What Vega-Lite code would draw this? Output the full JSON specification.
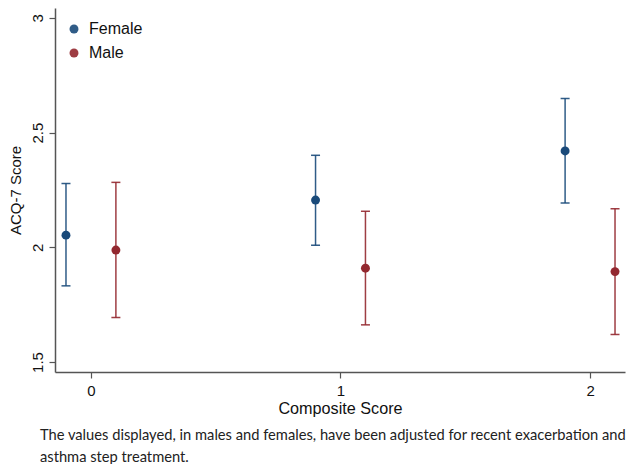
{
  "$schema": "https://vega.github.io/schema/vega-lite/v6.json",
  "width": 570,
  "height": 364,
  "autosize": "none",
  "padding": {"left": 55, "top": 8, "right": 3, "bottom": 92},
  "background": "white",
  "config": {"view": {"stroke": null}, "font": "Liberation Sans"},
  "title": {
    "text": ["The values displayed, in males and females, have been adjusted for recent exacerbation and", "asthma step treatment."],
    "orient": "bottom",
    "anchor": "start",
    "frame": "group",
    "dx": -15,
    "offset": 12,
    "font": "Lato",
    "fontSize": 14.7,
    "fontWeight": "normal",
    "color": "#222222",
    "lineHeight": 22
  },
  "data": {
    "values": [
      {"composite": 0, "sex": "Female", "mean": 2.053, "lo": 1.832, "hi": 2.278},
      {"composite": 0, "sex": "Male", "mean": 1.988, "lo": 1.694, "hi": 2.283},
      {"composite": 1, "sex": "Female", "mean": 2.206, "lo": 2.009, "hi": 2.401},
      {"composite": 1, "sex": "Male", "mean": 1.909, "lo": 1.662, "hi": 2.157},
      {"composite": 2, "sex": "Female", "mean": 2.42, "lo": 2.193, "hi": 2.649},
      {"composite": 2, "sex": "Male", "mean": 1.894, "lo": 1.62, "hi": 2.168}
    ]
  },
  "transform": [
    {"calculate": "datum.composite + (datum.sex === 'Female' ? -0.1 : 0.1)", "as": "xpos"}
  ],
  "encoding": {
    "x": {
      "field": "xpos",
      "type": "quantitative",
      "scale": {"domain": [-0.144, 2.14], "nice": false, "zero": false},
      "axis": {
        "values": [0, 1, 2],
        "format": "~g",
        "title": "Composite Score",
        "titleFont": "Liberation Sans",
        "titleFontSize": 16.2,
        "titleFontWeight": "normal",
        "titleColor": "#111111",
        "titlePadding": 2,
        "labelFont": "Liberation Sans",
        "labelFontSize": 15,
        "labelColor": "#111111",
        "labelPadding": 5,
        "grid": false,
        "domainColor": "#555555",
        "domainWidth": 1.5,
        "tickColor": "#555555",
        "tickSize": 6,
        "tickWidth": 1.2
      }
    },
    "color": {
      "field": "sex",
      "type": "nominal",
      "scale": {"domain": ["Female", "Male"], "range": ["#1a4a7a", "#93282f"]},
      "legend": {
        "title": null,
        "orient": "none",
        "legendX": 11,
        "legendY": 13,
        "symbolType": "circle",
        "symbolSize": 80,
        "symbolStrokeWidth": 0,
        "labelFont": "Liberation Sans",
        "labelFontSize": 16,
        "labelColor": "#111111",
        "labelOffset": 7,
        "rowPadding": 8,
        "padding": 0
      }
    }
  },
  "layer": [
    {
      "mark": {
        "type": "errorbar",
        "ticks": {"size": 9, "thickness": 1.5},
        "rule": {"strokeWidth": 1.5},
        "opacity": 0.9
      },
      "encoding": {
        "y": {
          "field": "lo",
          "type": "quantitative",
          "scale": {"domain": [1.4565, 3.043], "nice": false, "zero": false},
          "axis": {
            "values": [1.5, 2, 2.5, 3],
            "format": "~g",
            "title": "ACQ-7 Score",
            "titleFont": "Liberation Sans",
            "titleFontSize": 15,
            "titleFontWeight": "normal",
            "titleColor": "#111111",
            "titlePadding": 7,
            "labelFont": "Liberation Sans",
            "labelFontSize": 15,
            "labelColor": "#111111",
            "labelAngle": -90,
            "labelAlign": "center",
            "labelBaseline": "bottom",
            "labelPadding": 4,
            "grid": false,
            "domainColor": "#555555",
            "domainWidth": 1.5,
            "tickColor": "#555555",
            "tickSize": 6,
            "tickWidth": 1.2
          }
        },
        "y2": {"field": "hi"}
      }
    },
    {
      "mark": {"type": "point", "filled": true, "size": 80, "opacity": 1},
      "encoding": {
        "y": {"field": "mean", "type": "quantitative"}
      }
    }
  ]
}
